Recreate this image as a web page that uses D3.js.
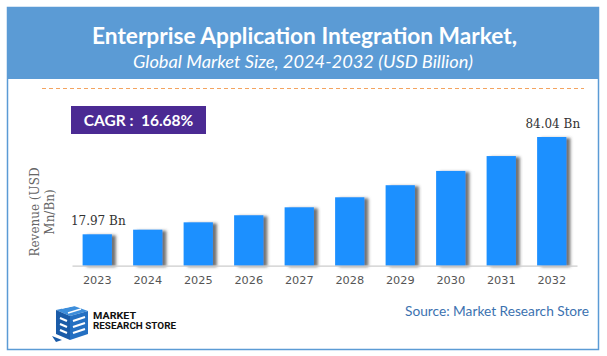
<!DOCTYPE html>
<html><head><meta charset="utf-8">
<script src="https://cdn.jsdelivr.net/npm/d3@7/dist/d3.min.js"></script>
<style>html,body{margin:0;padding:0;background:#fff;}svg{display:block;}</style>
</head><body>
<svg id="chart" width="607" height="356"></svg>
<script>
const years = ["2023","2024","2025","2026","2027","2028","2029","2030","2031","2032"];
const revenue = [17.97, 21.1, 26.1, 30.9, 36.3, 43.1, 51.3, 61.0, 71.1, 84.04];
const labelledYears = ["2023","2032"];
const titleText = "Enterprise Application Integration Market,";
const subtitleText = "Global Market Size, 2024-2032 (USD Billion)";
const cagrText = "CAGR :  16.68%";
const yTitleLines = ["Revenue (USD", "Mn/Bn)"];
const sourceText = "Source: Market Research Store";
const axisFloor = -3.35;

const svg = d3.select("#chart");
const defs = svg.append("defs");
const f = defs.append("filter").attr("id","shadow").attr("x","-20%").attr("y","-10%").attr("width","160%").attr("height","130%");
f.append("feDropShadow").attr("dx",4).attr("dy",1).attr("stdDeviation",1.6).attr("flood-color","#444").attr("flood-opacity",0.75);

// frame
svg.append("rect").attr("x",7.5).attr("y",7.5).attr("width",591).attr("height",342)
  .attr("fill","#fff").attr("stroke","#5B9BD5").attr("stroke-width",1.5);
svg.append("rect").attr("x",7).attr("y",7).attr("width",592).attr("height",72).attr("fill","#5B9BD5");

svg.append("text").attr("x",304.5).attr("y",43.5).attr("text-anchor","middle")
  .attr("font-family","Lato, 'Open Sans', sans-serif").attr("font-weight","bold").attr("font-size",22)
  .attr("textLength",425).attr("lengthAdjust","spacingAndGlyphs")
  .attr("fill","#fff").text(titleText);
svg.append("text").attr("x",303).attr("y",67.5).attr("text-anchor","middle")
  .attr("font-family","Lato, 'Open Sans', sans-serif").attr("font-style","italic").attr("font-size",17.5)
  .attr("textLength",340).attr("lengthAdjust","spacingAndGlyphs")
  .attr("fill","#fff").text(subtitleText);

// dashed line
svg.append("line").attr("x1",42).attr("x2",584).attr("y1",88.5).attr("y2",88.5)
  .attr("stroke","#F4A460").attr("stroke-width",1.2).attr("stroke-dasharray","4,3");

// CAGR box
svg.append("rect").attr("x",71).attr("y",106).attr("width",135).attr("height",28).attr("fill","#4B2A93");
svg.append("text").attr("x",138.5).attr("y",125.5).attr("text-anchor","middle")
  .attr("font-family","Lato, 'Open Sans', sans-serif").attr("font-weight","bold").attr("font-size",15.5)
  .attr("fill","#fff").attr("xml:space","preserve").text(cagrText);

// scales
const x = d3.scaleBand().domain(years).range([72,577]).paddingInner(0.42).paddingOuter(0.21);
const y = d3.scaleLinear().domain([axisFloor, 84.04]).range([265.7, 137]);

// bars
svg.append("g").selectAll("rect").data(years).join("rect")
  .attr("x", d => x(d)).attr("width", x.bandwidth())
  .attr("y", (d,i) => y(revenue[i])).attr("height", (d,i) => y(axisFloor) - y(revenue[i]))
  .attr("fill","#1E90FF").attr("filter","url(#shadow)");

// axis
const xAxis = d3.axisBottom(x).tickSize(0).tickPadding(10);
const ax = svg.append("g").attr("transform","translate(0,265.7)").call(xAxis);
ax.select(".domain").attr("stroke","#cccccc").attr("stroke-width",1.2);
ax.selectAll("text").attr("font-family","'DejaVu Sans', Verdana, sans-serif").attr("font-size",11.3).attr("fill","#555");

// value labels
svg.append("g").selectAll("text").data(years.filter(d => labelledYears.includes(d))).join("text")
  .attr("x", d => x(d) + x.bandwidth()/2 + 1)
  .attr("y", d => y(revenue[years.indexOf(d)]) - 9)
  .attr("text-anchor","middle").attr("font-family","'DejaVu Serif', serif").attr("font-size",12)
  .attr("fill","#333").text(d => revenue[years.indexOf(d)].toFixed(2) + " Bn");

// y title
const yt = svg.append("text").attr("transform","translate(39,212) rotate(-90)")
  .attr("text-anchor","middle").attr("font-family","'DejaVu Serif', serif").attr("font-size",12).attr("fill","#666");
yt.selectAll("tspan").data(yTitleLines).join("tspan").attr("x",0).attr("dy",(d,i)=> i===0 ? 0 : 15).text(d=>d);

// source
svg.append("text").attr("x",589).attr("y",315.5).attr("text-anchor","end")
  .attr("font-family","Lato, 'Open Sans', sans-serif").attr("font-size",14)
  .attr("textLength",184).attr("lengthAdjust","spacingAndGlyphs")
  .attr("fill","#3C72B0").text(sourceText);

// logo
const lg = svg.append("g").attr("transform","translate(48,306)");
lg.append("path").attr("d","M8,4 L26,0 L40,5 L22,10 Z").attr("fill","#3D8EDB");
lg.append("path").attr("d","M8,4 L22,10 L22,34 L8,28 Z").attr("fill","#1A5BA8");
lg.append("path").attr("d","M22,10 L40,5 L40,28 L22,34 Z").attr("fill","#2470C2");
lg.append("path").attr("d","M12,12 L19,15 M12,18 L19,21 M12,24 L19,27").attr("stroke","#fff").attr("stroke-width",2);
lg.append("path").attr("d","M25,15 L37,11 M25,21 L37,17 M25,27 L37,23").attr("stroke","#fff").attr("stroke-width",2);
lg.append("path").attr("d","M14,2 L28,-1 M20,7 L33,3").attr("stroke","#fff").attr("stroke-width",1.5);
lg.append("path").attr("d","M4,30 L14,34 L8,36 Z").attr("fill","#1A5BA8");
const lt = svg.append("g").attr("font-family","Roboto, 'Liberation Sans', sans-serif").attr("font-weight","bold")
  .attr("font-size",9.5).attr("fill","#111");
lt.append("text").attr("x",93).attr("y",319).attr("textLength",43).attr("lengthAdjust","spacingAndGlyphs").text("MARKET");
lt.append("text").attr("x",93).attr("y",329).attr("textLength",83).attr("lengthAdjust","spacingAndGlyphs").text("RESEARCH STORE");
</script>
</body></html>
